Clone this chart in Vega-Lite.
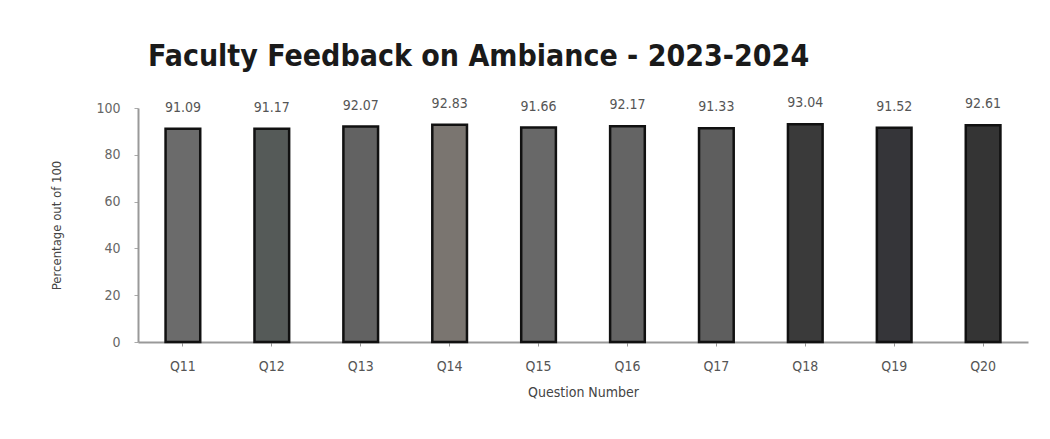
{
  "$schema": "https://vega.github.io/schema/vega-lite/v6.json",
  "width": 890,
  "height": 234,
  "autosize": {"type": "none"},
  "padding": {"left": 138, "top": 108, "right": 22, "bottom": 97},
  "background": "#ffffff",
  "title": {
    "text": "Faculty Feedback on Ambiance -  2023-2024",
    "anchor": "start",
    "frame": "group",
    "dx": 10,
    "offset": 24,
    "font": "DejaVu Sans Condensed",
    "fontSize": 30,
    "fontWeight": "bold",
    "color": "#1a1a1a"
  },
  "data": {
    "values": [
      {"Question": "Q11", "Score": 91.09},
      {"Question": "Q12", "Score": 91.17},
      {"Question": "Q13", "Score": 92.07},
      {"Question": "Q14", "Score": 92.83},
      {"Question": "Q15", "Score": 91.66},
      {"Question": "Q16", "Score": 92.17},
      {"Question": "Q17", "Score": 91.33},
      {"Question": "Q18", "Score": 93.04},
      {"Question": "Q19", "Score": 91.52},
      {"Question": "Q20", "Score": 92.61}
    ]
  },
  "encoding": {
    "x": {
      "field": "Question",
      "type": "nominal",
      "sort": null,
      "scale": {"paddingInner": 0.61, "paddingOuter": 0.31},
      "axis": {
        "title": "Question Number",
        "labelAngle": 0,
        "labelFont": "DejaVu Sans Condensed",
        "labelFontSize": 14,
        "labelColor": "#555555",
        "labelPadding": 13,
        "tickSize": 4,
        "tickColor": "#999999",
        "domainColor": "#999999",
        "domainWidth": 2,
        "titleFont": "DejaVu Sans Condensed",
        "titleFontSize": 14,
        "titleFontWeight": "normal",
        "titleColor": "#444444",
        "titlePadding": 12
      }
    },
    "y": {
      "field": "Score",
      "type": "quantitative",
      "scale": {"domain": [0, 100]},
      "axis": {
        "title": "Percentage out of 100",
        "values": [0, 20, 40, 60, 80, 100],
        "grid": false,
        "labelFont": "DejaVu Sans Condensed",
        "labelFontSize": 14,
        "labelColor": "#666666",
        "labelPadding": 14,
        "tickSize": 4,
        "tickColor": "#aaaaaa",
        "domainColor": "#999999",
        "domainWidth": 2,
        "titleFont": "DejaVu Sans Condensed",
        "titleFontSize": 13,
        "titleFontWeight": "normal",
        "titleColor": "#444444",
        "titlePadding": 32
      }
    }
  },
  "layer": [
    {
      "mark": {"type": "bar", "stroke": "#111111", "strokeWidth": 2.5},
      "encoding": {
        "color": {
          "field": "Question",
          "type": "nominal",
          "legend": null,
          "scale": {
            "domain": ["Q11", "Q12", "Q13", "Q14", "Q15", "Q16", "Q17", "Q18", "Q19", "Q20"],
            "range": ["#6b6b6b", "#555a58", "#626262", "#7a7570", "#686868", "#646464", "#5e5e5e", "#3a3a3a", "#353539", "#343434"]
          }
        }
      }
    },
    {
      "mark": {
        "type": "text",
        "baseline": "bottom",
        "dy": -14,
        "font": "DejaVu Sans Condensed",
        "fontSize": 14,
        "color": "#555555"
      },
      "encoding": {
        "text": {"field": "Score", "type": "quantitative", "format": ".2f"}
      }
    }
  ],
  "config": {"view": {"stroke": null}}
}
